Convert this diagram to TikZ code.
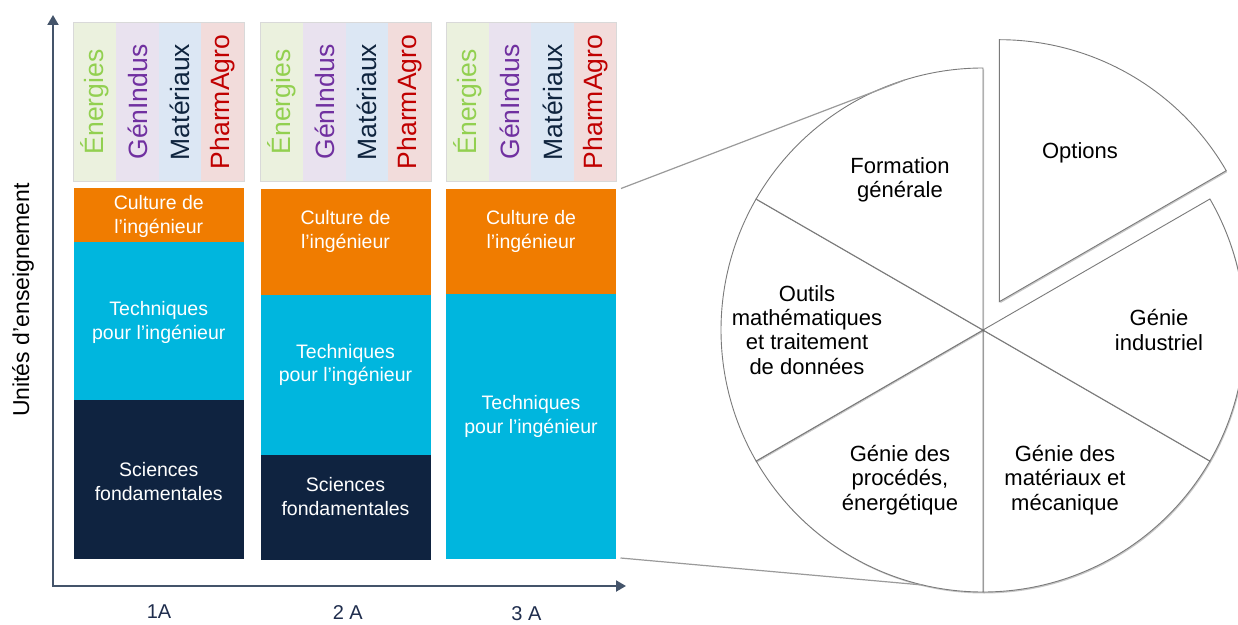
\documentclass[tikz,border=0pt]{standalone}
\usepackage{fontspec}
\setmainfont{Liberation Sans}
\usetikzlibrary{arrows.meta,shadows,calc}
\definecolor{orangeC}{HTML}{F07C00}
\definecolor{cyanC}{HTML}{00B6DE}
\definecolor{navyC}{HTML}{0F2340}
\definecolor{bgG}{HTML}{EBF1DE}
\definecolor{bgP}{HTML}{E9E2EF}
\definecolor{bgB}{HTML}{DCE7F4}
\definecolor{bgR}{HTML}{F2DCDB}
\definecolor{tG}{HTML}{92D050}
\definecolor{tP}{HTML}{7030A0}
\definecolor{tB}{HTML}{0F243E}
\definecolor{tR}{HTML}{C00000}
\definecolor{axisC}{HTML}{44546A}
\definecolor{labC}{HTML}{1F2D4D}
\definecolor{pieC}{HTML}{7A7A7A}
\definecolor{zoomC}{HTML}{9A9A9A}
\begin{document}
\begin{tikzpicture}[x=1pt,y=1pt,
  bartext/.style={text=white,align=center,font=\fontsize{19.5}{23.5}\selectfont},
  opttext/.style={rotate=90,font=\fontsize{26.5}{30}\selectfont,inner sep=0pt},
  pietext/.style={align=center,font=\fontsize{22}{24.4}\selectfont},
  axlab/.style={text=labC,font=\fontsize{20}{24}\selectfont,inner sep=1pt},
  slice/.style={draw=pieC,line width=0.9pt,fill=white,line join=miter,
    drop shadow={shadow xshift=1pt,shadow yshift=-1.5pt,opacity=0.22,fill=black}},
  zoomline/.style={draw=zoomC,line width=1.2pt},
  axisline/.style={draw=axisC,line width=2pt,-{Triangle[width=11pt,length=10pt]}}]
\clip (0,0) rectangle (1238,624);
\fill[white] (0,0) rectangle (1238,624);

% axes
\coordinate (O) at (53,38);
\coordinate (Ytop) at (53,609);
\coordinate (Xend) at (626,38);
\draw[axisline] (O) -- (Ytop);
\draw[axisline] (52,38) -- (Xend);
\node[rotate=90,font=\fontsize{23}{26}\selectfont] (ylab) at (23,324) {Unités d'enseignement};
\node[axlab] (x1) at (159,12.5) {1A};
\node[axlab] (x2) at (347.8,11.5) {2 A};
\node[axlab] (x3) at (526.5,10) {3 A};

% option headers
\foreach \x/\n in {73.5/a,260.5/b,446/c}{
  \fill[bgG] (\x,442.3) rectangle ++(42.6,159.2);
  \fill[bgP] (\x+42.6,442.3) rectangle ++(42.6,159.2);
  \fill[bgB] (\x+85.2,442.3) rectangle ++(42.6,159.2);
  \fill[bgR] (\x+127.8,442.3) rectangle ++(42.7,159.2);
  \draw[black!15,line width=0.8pt] (\x,442.3) rectangle ++(170.5,159.2);
  \node[opttext,text=tG] (en\n) at (\x+21.3,522) {Énergies};
  \node[opttext,text=tP] (gi\n) at (\x+63.9,522) {GénIndus};
  \node[opttext,text=tB] (ma\n) at (\x+106.5,522) {Matériaux};
  \node[opttext,text=tR] (pa\n) at (\x+149.2,522) {PharmAgro};
}

% 1A
\fill[orangeC] (73.5,382) rectangle (244,435.5);
\fill[cyanC] (73.5,223.5) rectangle (244,382);
\fill[navyC] (73.5,65) rectangle (244,223.5);
\node[bartext] (c1) at (158.75,407.5) {Culture de\\l’ingénieur};
\node[bartext] (t1) at (158.75,301.5) {Techniques\\pour l’ingénieur};
\node[bartext] (s1) at (158.75,142.5) {Sciences\\fondamentales};

% 2A
\fill[orangeC] (260.5,328.5) rectangle (430.5,435);
\fill[cyanC] (260.5,169.3) rectangle (430.5,328.5);
\fill[navyC] (260.5,64) rectangle (430.5,169.3);
\node[bartext] (c2) at (345.5,392.3) {Culture de\\l’ingénieur};
\node[bartext] (t2) at (345.5,259) {Techniques\\pour l’ingénieur};
\node[bartext] (s2) at (345.5,127.3) {Sciences\\fondamentales};

% 3A
\fill[orangeC] (446,330) rectangle (616,435.3);
\fill[cyanC] (446,65) rectangle (616,330);
\node[bartext] (c3) at (531,392.3) {Culture de\\l’ingénieur};
\node[bartext] (t3) at (531,207.7) {Techniques\\pour l’ingénieur};

% pie
\coordinate (C) at (983,294);
\coordinate (Cx) at (999.3,322.3);
\draw[slice] (C) -- ++(270:262) arc[start angle=270,end angle=330,radius=262] -- cycle;
\draw[slice] (C) -- ++(210:262) arc[start angle=210,end angle=270,radius=262] -- cycle;
\draw[slice] (C) -- ++(-30:262) arc[start angle=-30,end angle=30,radius=262] -- cycle;
\draw[slice] (C) -- ++(150:262) arc[start angle=150,end angle=210,radius=262] -- cycle;
\draw[slice] (C) -- ++(90:262) arc[start angle=90,end angle=150,radius=262] -- cycle;
\draw[slice] (Cx) -- ++(30:262) arc[start angle=30,end angle=90,radius=262] -- cycle;

\node[pietext] (pf) at (900,444) {Formation\\générale};
\node[pietext] (po) at (1080,471.3) {Options};
\node[pietext] (pm) at (807,294.2) {Outils\\mathématiques\\et traitement\\de données};
\node[pietext] (pi) at (1159,294) {Génie\\industriel};
\node[pietext] (pp) at (900,144) {Génie des\\procédés,\\énergétique};
\node[pietext] (pmm) at (1065,144) {Génie des\\matériaux et\\mécanique};

% zoom lines
\coordinate (zA) at (621,435.5);
\coordinate (zB) at (620.5,66);
\coordinate (pA) at ($(C)+(107.4:262)$);
\coordinate (pB) at ($(C)+(256.8:262)$);
\draw[zoomline] (zA) -- (pA);
\draw[zoomline] (zB) -- (pB);
\end{tikzpicture}
\end{document}
